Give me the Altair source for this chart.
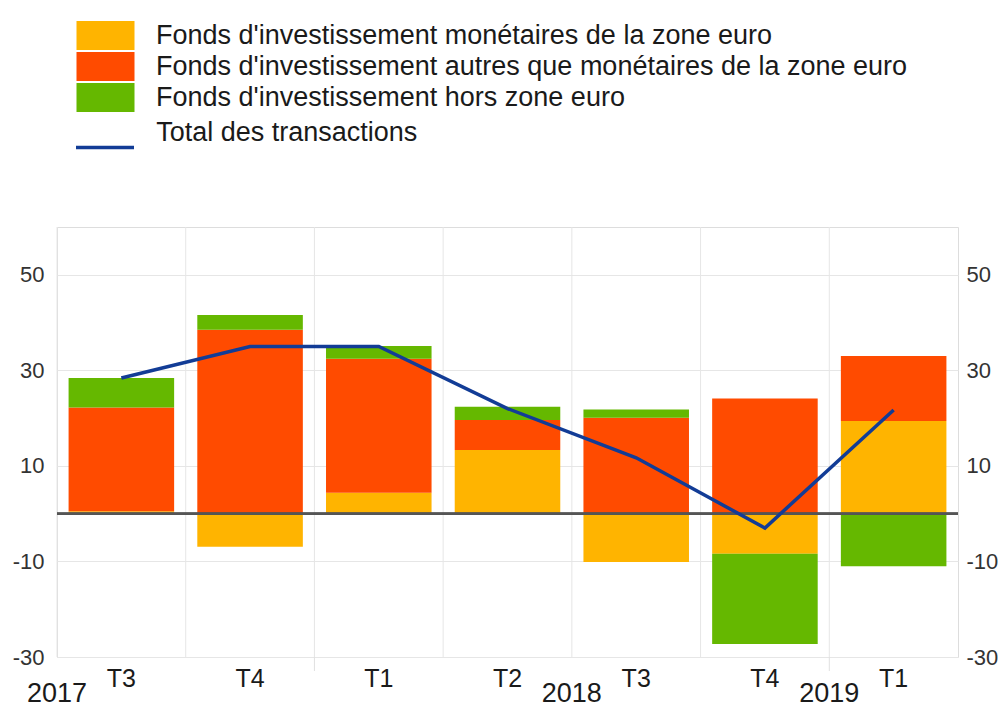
import altair as alt
import pandas as pd

# ---- data ----
quarters = ["T3 2017", "T4 2017", "T1 2018", "T2 2018", "T3 2018", "T4 2018", "T1 2019"]
monetaires = [0.5, -6.9, 4.4, 13.3, -10.1, -8.4, 19.4]
autres = [21.7, 38.5, 28.0, 6.3, 20.1, 24.1, 13.6]
hors_zone = [6.2, 3.1, 2.7, 2.8, 1.7, -18.9, -11.0]
total = [28.4, 35.0, 35.0, 22.0, 11.7, -3.0, 21.7]

series_names = [
    "Fonds d'investissement monétaires de la zone euro",
    "Fonds d'investissement autres que monétaires de la zone euro",
    "Fonds d'investissement hors zone euro",
]
series_colors = ["#FFB400", "#FF4B00", "#65B800"]
line_name = "Total des transactions"
line_color = "#123C96"

year_labels = ["2017", "2018", "2019"]
year_anchor = ["T3 2017", "T3 2018", "T1 2019"]
year_starts = ["T1 2018", "T1 2019"]
y_ticks = [-30, -10, 10, 30, 50]

FONT = "Liberation Sans"
W, H = 901, 430

rows = []
for i, q in enumerate(quarters):
    for k, vals in enumerate([monetaires, autres, hors_zone]):
        rows.append({"cat": q, "series": series_names[k], "order": k, "value": vals[i]})
df_bars = pd.DataFrame(rows)
df_line = pd.DataFrame({"cat": quarters, "total": total, "name": [line_name] * len(quarters)})
df_grid = pd.DataFrame({"cat": quarters})
df_years = pd.DataFrame({"cat": year_anchor, "label": year_labels})
df_ystart = pd.DataFrame({"cat": year_starts})

xscale = alt.Scale(domain=quarters, paddingInner=0, paddingOuter=0)
yscale = alt.Scale(domain=[-30, 60], nice=False, zero=False)

xaxis = alt.Axis(
    title=None,
    labelExpr="split(datum.label, ' ')[0]",
    ticks=False,
    domain=False,
    grid=False,
    labelAngle=0,
    labelFontSize=25,
    labelFont=FONT,
    labelColor="#1a1a1a",
    labelPadding=9,
)


def X(**kw):
    return alt.X("cat:N", scale=xscale, sort=quarters, axis=xaxis, **kw)


grid = alt.Chart(df_grid).mark_rule(color="#e6e6e6", strokeWidth=1).encode(
    x=X(bandPosition=0),
    y=alt.value(0),
    y2=alt.value(H),
)

ystart = alt.Chart(df_ystart).mark_rule(color="#e0e0e0", strokeWidth=1).encode(
    x=X(bandPosition=0),
    y=alt.value(H),
    y2=alt.value(H + 14),
)

bars = alt.Chart(df_bars).mark_bar(width=alt.RelativeBandSize(0.82)).encode(
    x=X(),
    y=alt.Y(
        "value:Q",
        stack="zero",
        scale=yscale,
        axis=alt.Axis(
            title=None,
            orient="left",
            values=y_ticks,
            labelExpr="'' + datum.value",
            ticks=False,
            domain=False,
            grid=True,
            gridColor="#e6e6e6",
            labelFontSize=22,
            labelFont=FONT,
            labelColor="#333333",
            labelPadding=13,
        ),
    ),
    fill=alt.Fill(
        "series:N",
        scale=alt.Scale(domain=series_names, range=series_colors),
        legend=alt.Legend(
            title=None,
            orient="none",
            legendX=34,
            legendY=-206,
            symbolType="M-2,-1H2V1H-2Z",
            symbolSize=841,
            symbolStrokeWidth=0,
            symbolOpacity=1,
            labelFontSize=27,
            labelFont=FONT,
            labelColor="#1a1a1a",
            labelOffset=36,
            labelLimit=1000,
            rowPadding=2,
            padding=0,
        ),
    ),
    order=alt.Order("order:Q"),
)

zero = alt.Chart(df_grid).mark_rule(color="#555555", strokeWidth=2).encode(
    y=alt.YDatum(0, axis=None, scale=yscale),
)

line = alt.Chart(df_line).mark_line(strokeWidth=3.5).encode(
    x=X(),
    y=alt.Y(
        "total:Q",
        scale=yscale,
        axis=alt.Axis(
            title=None,
            orient="right",
            values=y_ticks,
            labelExpr="'' + datum.value",
            ticks=False,
            domain=False,
            grid=False,
            labelFontSize=22,
            labelFont=FONT,
            labelColor="#333333",
            labelPadding=8,
        ),
    ),
    stroke=alt.Stroke(
        "name:N",
        scale=alt.Scale(domain=[line_name], range=[line_color]),
        legend=alt.Legend(
            title=None,
            orient="none",
            legendX=31.5,
            legendY=-110.5,
            symbolType="M-2,1H2",
            symbolSize=841,
            symbolStrokeWidth=3.5,
            labelFontSize=27,
            labelFont=FONT,
            labelColor="#1a1a1a",
            labelOffset=34.7,
            labelLimit=1000,
            padding=0,
        ),
    ),
)

years = alt.Chart(df_years).mark_text(
    fontSize=27, font=FONT, color="#1a1a1a", baseline="middle", align="center"
).encode(
    x=X(bandPosition=0),
    y=alt.value(H + 37),
    text="label:N",
)

chart = (
    alt.layer(grid, ystart, bars, zero, line, years)
    .resolve_axis(y="independent")
    .properties(
        width=W,
        height=H,
        autosize=alt.AutoSizeParams(type="none"),
        padding={"left": 49, "top": 219, "right": 40, "bottom": 51},
    )
    .configure_view(stroke="#dddddd", strokeWidth=1)
)

chart.save("out.html", embed_options={"renderer": "svg", "actions": False})
